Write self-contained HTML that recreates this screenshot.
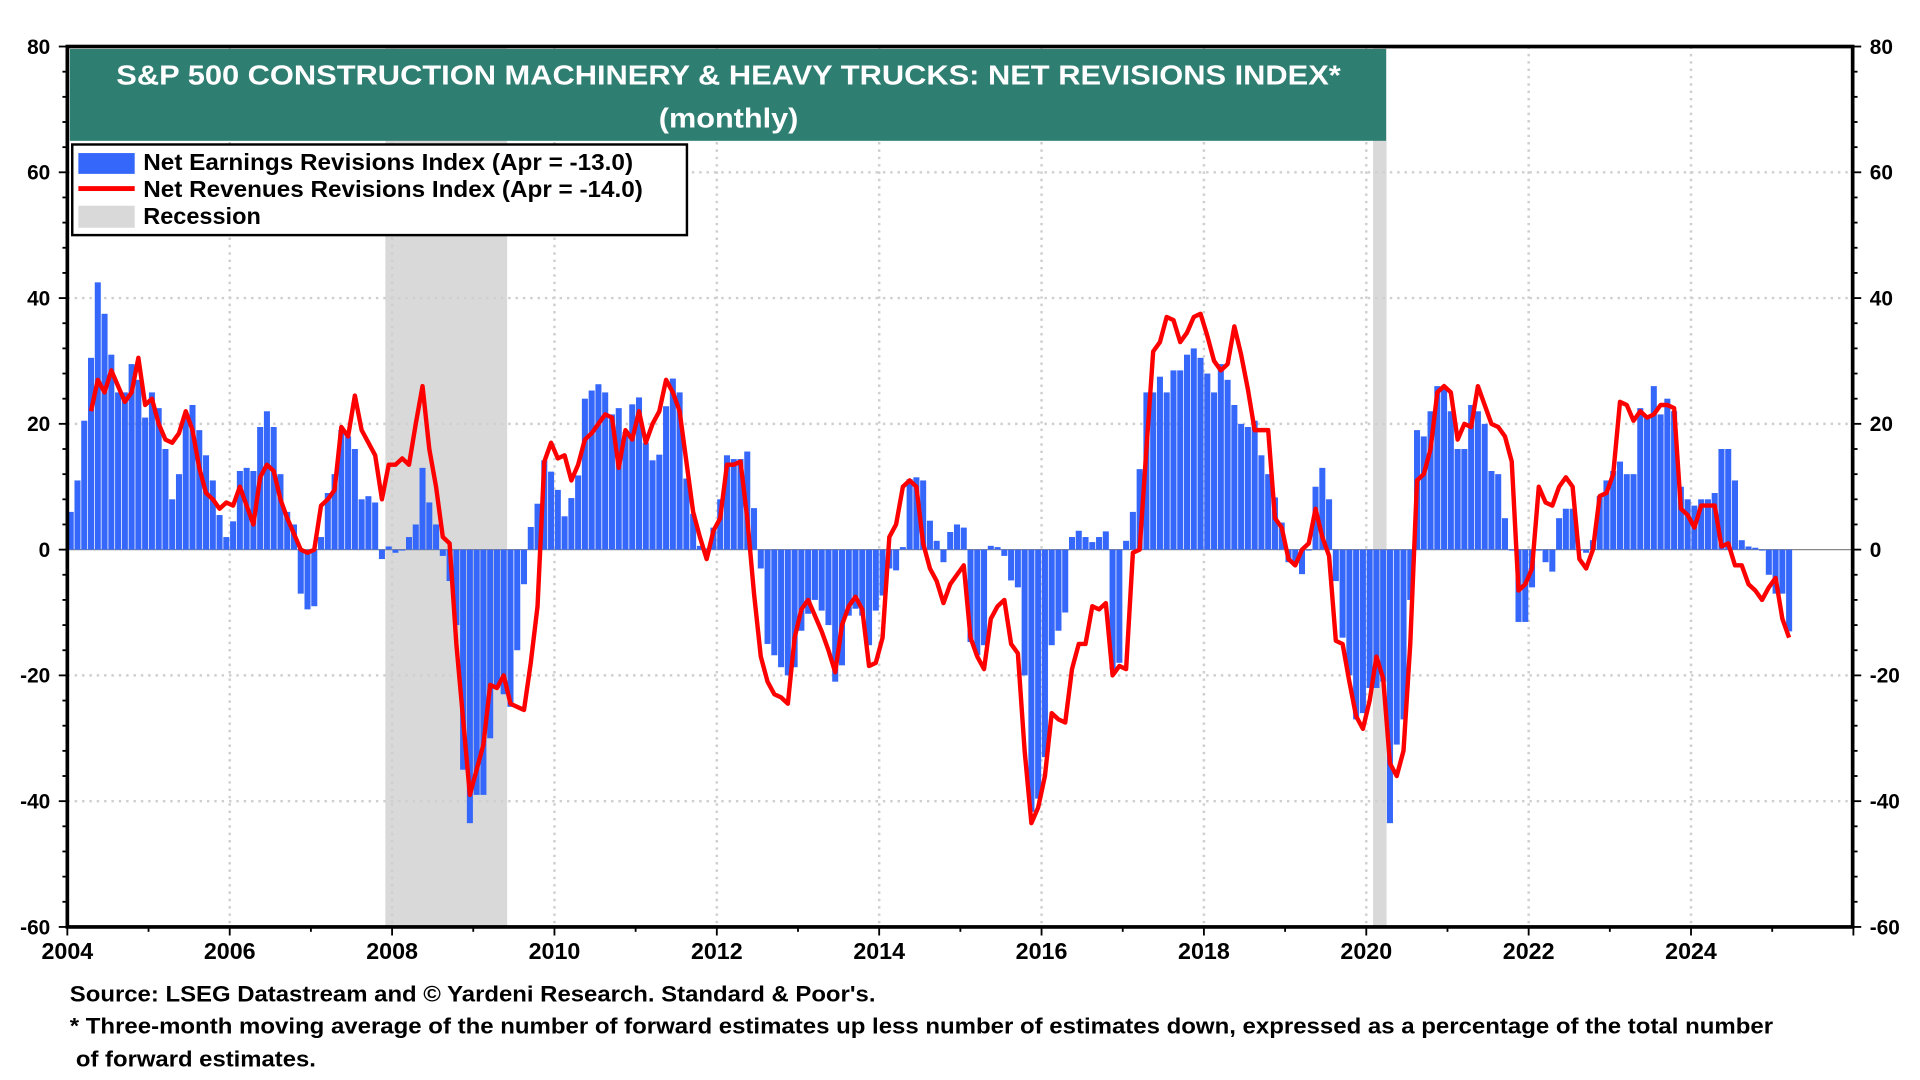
<!DOCTYPE html>
<html><head><meta charset="utf-8"><style>
html,body{margin:0;padding:0;background:#fff;width:1920px;height:1080px;overflow:hidden}
svg{display:block}
text{font-family:"Liberation Sans",Arial,sans-serif;font-weight:bold}
</style></head><body>
<svg id="chart" width="1920" height="1080" viewBox="0 0 1568 882" xmlns="http://www.w3.org/2000/svg">
<g id="bg"></g>
<g id="bars"></g>
<g id="lines"></g>
<g id="fg"></g>
</svg>
<script>
const startYear = 2004;
const earnings = [
6,11,20.5,30.5,42.5,37.5,31,25,25,29.5,27,21,
25,22.5,16,8,12,21,23,19,15,11,5.5,2,
4.5,12.5,13,12.5,19.5,22,19.5,12,6,4,-7,-9.5,
-9,2,9,12,19,18,16,8,8.5,7.5,-1.5,0.5,
-0.5,0,2,4,13,7.5,4,-1,-5,-12,-35,-43.5,
-39,-39,-30,-22,-23,-25,-16,-5.5,3.6,7.3,14.2,12.4,
9.5,5.3,8.2,11.8,24,25.3,26.3,25,21.5,22.5,18.7,23.1,
24.2,17,14.2,15.1,22.8,27.2,25,11.3,5.7,0.6,0.2,3.5,
8,15,14.4,14.4,15.6,6.6,-3,-15,-16.8,-18.7,-20,-18.7,
-12.9,-10.2,-8,-9.7,-12,-21,-18.4,-10.5,-9.4,-10.5,-15.2,-9.7,
-7.3,-3,-3.3,0.4,11.2,11.5,11,4.6,1.4,-2,2.8,4,
3.5,-14.7,-16.8,-15.2,0.6,0.4,-1,-4.9,-6,-20,-41.7,-39.6,
-33,-15.2,-12.9,-10,2,3,2,1.2,2,2.9,-19,-18,
1.4,6,12.8,25,25,27.5,25,28.5,28.5,31,32,30.5,
28,25,29.5,27,23,20,19.5,20.5,15,12,8.3,4.3,
-2,-2,-3.9,0,10,13,8,-5,-14,-20,-27,-26,
-22,-22,-21,-43.5,-31,-27,-8,19,18,22,26,25.5,
22,16,16,23,22,20,12.5,12,5,0,-11.5,-11.5,
-6,0,-2,-3.5,5,6.5,6.5,0,-0.5,1.5,8.5,11,
12.5,14,12,12,22.5,21,26,21.5,24,22,10,8,
7,8,8,9,16,16,11,1.5,0.5,0.3,0,-4,
-7,-7,-13];
const revenueStart = 3;
const revenues = [
22,27,25,28.5,26,23.5,25,30.5,23,
24,20,17.5,17,18.5,22,19,13,9,8,6.5,7.5,
7,10,7,4,11.5,13.5,12.5,8,5,2.5,0,-0.5,
0,7,8,9.5,19.5,18,24.5,19,17,15,8,13.5,
13.5,14.5,13.5,20,26,16,10,2,1,-15,-27,-39,
-35,-31,-21.5,-22,-20,-24.5,-25,-25.5,-18,-9,14,17,
14.5,15,11,13.5,17.5,18.5,20,21.5,21,13,19,17.5,
22,17,20,22,27,25,22,14,6,2,-1.5,3,
5,13.5,13.5,14,5,-7,-17,-21,-23,-23.5,-24.5,-14,
-9.5,-8,-10.5,-13,-16,-19.5,-12,-9,-7.5,-9.5,-18.5,-18,
-14,2,4,10,11,10,1,-3,-5,-8.5,-5.5,-4,
-2.5,-14,-17,-19,-11,-9,-8,-15,-16.5,-32,-43.5,-41,
-36,-26,-27,-27.5,-19,-15,-15,-9,-9.5,-8.5,-20,-18.5,
-19,-0.5,0,16,31.5,33,37,36.5,33,34.5,37,37.5,
34,30,28.5,29.5,35.5,31,25.5,19,19,19,5,3.5,
-1.5,-2.5,0,1,6.5,2,-1,-14.5,-15,-21,-26.5,-28.5,
-24,-17,-20.5,-34,-36,-32,-15,11,12,16,25,26,
25,17.5,20,19.5,26,23,20,19.5,18,14,-6.5,-5.5,
-3,10,7.5,7,10,11.5,10,-1.5,-3,0,8.5,9,
12,23.5,23,20.5,22,21,21.5,23,23,22.5,6.5,5.5,
3.5,7,7,7,0.5,1,-2.5,-2.5,-5.5,-6.5,-8,-6,
-4.5,-11,-14];
const yTicks = [80,60,40,20,0,-20,-40,-60];
const xTickYears = [2004,2006,2008,2010,2012,2014,2016,2018,2020,2022,2024];
const recessions = [[2007.917,2009.417],[2020.083,2020.25]];

const NS="http://www.w3.org/2000/svg";
const L=55,R=1513,T=38,B=757;
function xYear(y){return L+(y-2004)*(1326/20);}
function xMonth(i){return xYear(2004+(i+0.5)/12);}
function yVal(v){return T+(80-v)*(B-T)/140;}
function mk(tag,attrs,parent,txt){const e=document.createElementNS(NS,tag);for(const k in attrs)e.setAttribute(k,attrs[k]);if(txt!==undefined)e.textContent=txt;parent.appendChild(e);return e;}
const bg=document.getElementById('bg'),barsG=document.getElementById('bars'),linesG=document.getElementById('lines'),fg=document.getElementById('fg');

recessions.forEach(r=>{
  const e=mk('rect',{x:xYear(r[0]),y:T,width:xYear(r[1])-xYear(r[0]),height:B-T,fill:'#d9d9d9'},bg);
  
  
});
yTicks.forEach(v=>{
  if(v===80||v===-60||v===0)return;
  const e=mk('line',{x1:L,x2:R,y1:yVal(v),y2:yVal(v),stroke:'#cfcfcf','stroke-width':2,'stroke-dasharray':'2,4'},bg);
  
  
});
xTickYears.forEach(y=>{
  if(y===2004)return;
  const e=mk('line',{x1:xYear(y),x2:xYear(y),y1:T,y2:B,stroke:'#cfcfcf','stroke-width':2,'stroke-dasharray':'2,4'},bg);
  
  
});
const zl=mk('line',{x1:L,x2:R,y1:yVal(0),y2:yVal(0),stroke:'#888','stroke-width':1},bg);



const bw=1326/240;
earnings.forEach((v,i)=>{
  const y0=yVal(0),y1=yVal(v);
  const e=mk('rect',{x:xMonth(i)-bw/2+0.3,y:Math.min(y0,y1),width:bw-0.6,height:Math.max(0.8,Math.abs(y1-y0)),fill:'#3567fb'},barsG);
  
  
});
let d='';
revenues.forEach((v,k)=>{d+=(k?'L':'M')+xMonth(k+revenueStart).toFixed(2)+','+yVal(v).toFixed(2);});
const pl=mk('path',{d:d,fill:'none',stroke:'#ff0000','stroke-width':3.6,'stroke-linejoin':'round'},linesG);



const fr=mk('rect',{x:L,y:T,width:R-L,height:B-T,fill:'none',stroke:'#000','stroke-width':3},fg);


for(let v=-60;v<=80;v+=4){
  const len=(v%20===0)?7:4;
  mk('line',{x1:L-len,x2:L,y1:yVal(v),y2:yVal(v),stroke:'#000','stroke-width':1.5},fg);
  mk('line',{x1:R,x2:R+len,y1:yVal(v),y2:yVal(v),stroke:'#000','stroke-width':1.5},fg);
}
yTicks.forEach(v=>{
  const a=mk('text',{x:L-14,y:yVal(v)+6,'text-anchor':'end','font-size':17},fg,String(v));
  
  
  const b=mk('text',{x:R+14,y:yVal(v)+6,'text-anchor':'start','font-size':17},fg,String(v));
  
  
});
for(let y=2004;y<=2026;y+=1){
  mk('line',{x1:xYear(y),x2:xYear(y),y1:B,y2:B+(y%2===0?7:4),stroke:'#000','stroke-width':1.5},fg);
}
xTickYears.forEach(y=>{
  const t=mk('text',{x:xYear(y),y:B+26,'text-anchor':'middle','font-size':19},fg,String(y));
  
  
});
</script>
<svg style="position:absolute;left:0;top:0" width="1920" height="1080" viewBox="0 0 1568 882" xmlns="http://www.w3.org/2000/svg">
<g>
<rect x="57" y="40" width="1075" height="75" fill="#2f7e72"/>
<text x="95" y="69" font-size="23" fill="#fff" textLength="1000" lengthAdjust="spacingAndGlyphs">S&amp;P 500 CONSTRUCTION MACHINERY &amp; HEAVY TRUCKS: NET REVISIONS INDEX*</text>
<text x="538" y="104" font-size="23" fill="#fff" textLength="114" lengthAdjust="spacingAndGlyphs">(monthly)</text>
</g>
<g>
<rect x="59" y="118" width="502" height="74" fill="#fff" stroke="#000" stroke-width="2"/>
<rect x="64" y="125" width="46" height="17" fill="#3567fb"/>
<text x="117" y="139" font-size="18.5" textLength="400" lengthAdjust="spacingAndGlyphs">Net Earnings Revisions Index (Apr  = -13.0)</text>
<rect x="64" y="152" width="46" height="4" fill="#ff0000"/>
<text x="117" y="161" font-size="18.5" textLength="408" lengthAdjust="spacingAndGlyphs">Net Revenues Revisions Index (Apr  = -14.0)</text>
<rect x="64" y="168" width="46" height="18" fill="#d9d9d9"/>
<text x="117" y="183" font-size="18.5" textLength="96" lengthAdjust="spacingAndGlyphs">Recession</text>
</g>
<g>
<text x="57" y="818" font-size="18" textLength="658" lengthAdjust="spacingAndGlyphs">Source: LSEG Datastream and © Yardeni Research. Standard &amp; Poor's.</text>
<text x="57" y="844" font-size="18" textLength="1391" lengthAdjust="spacingAndGlyphs">* Three-month moving average of the number of forward estimates up less number of estimates down, expressed as a percentage of the total number</text>
<text x="62" y="871" font-size="18" textLength="196" lengthAdjust="spacingAndGlyphs">of forward estimates.</text>
</g>
</svg>
</body></html>
